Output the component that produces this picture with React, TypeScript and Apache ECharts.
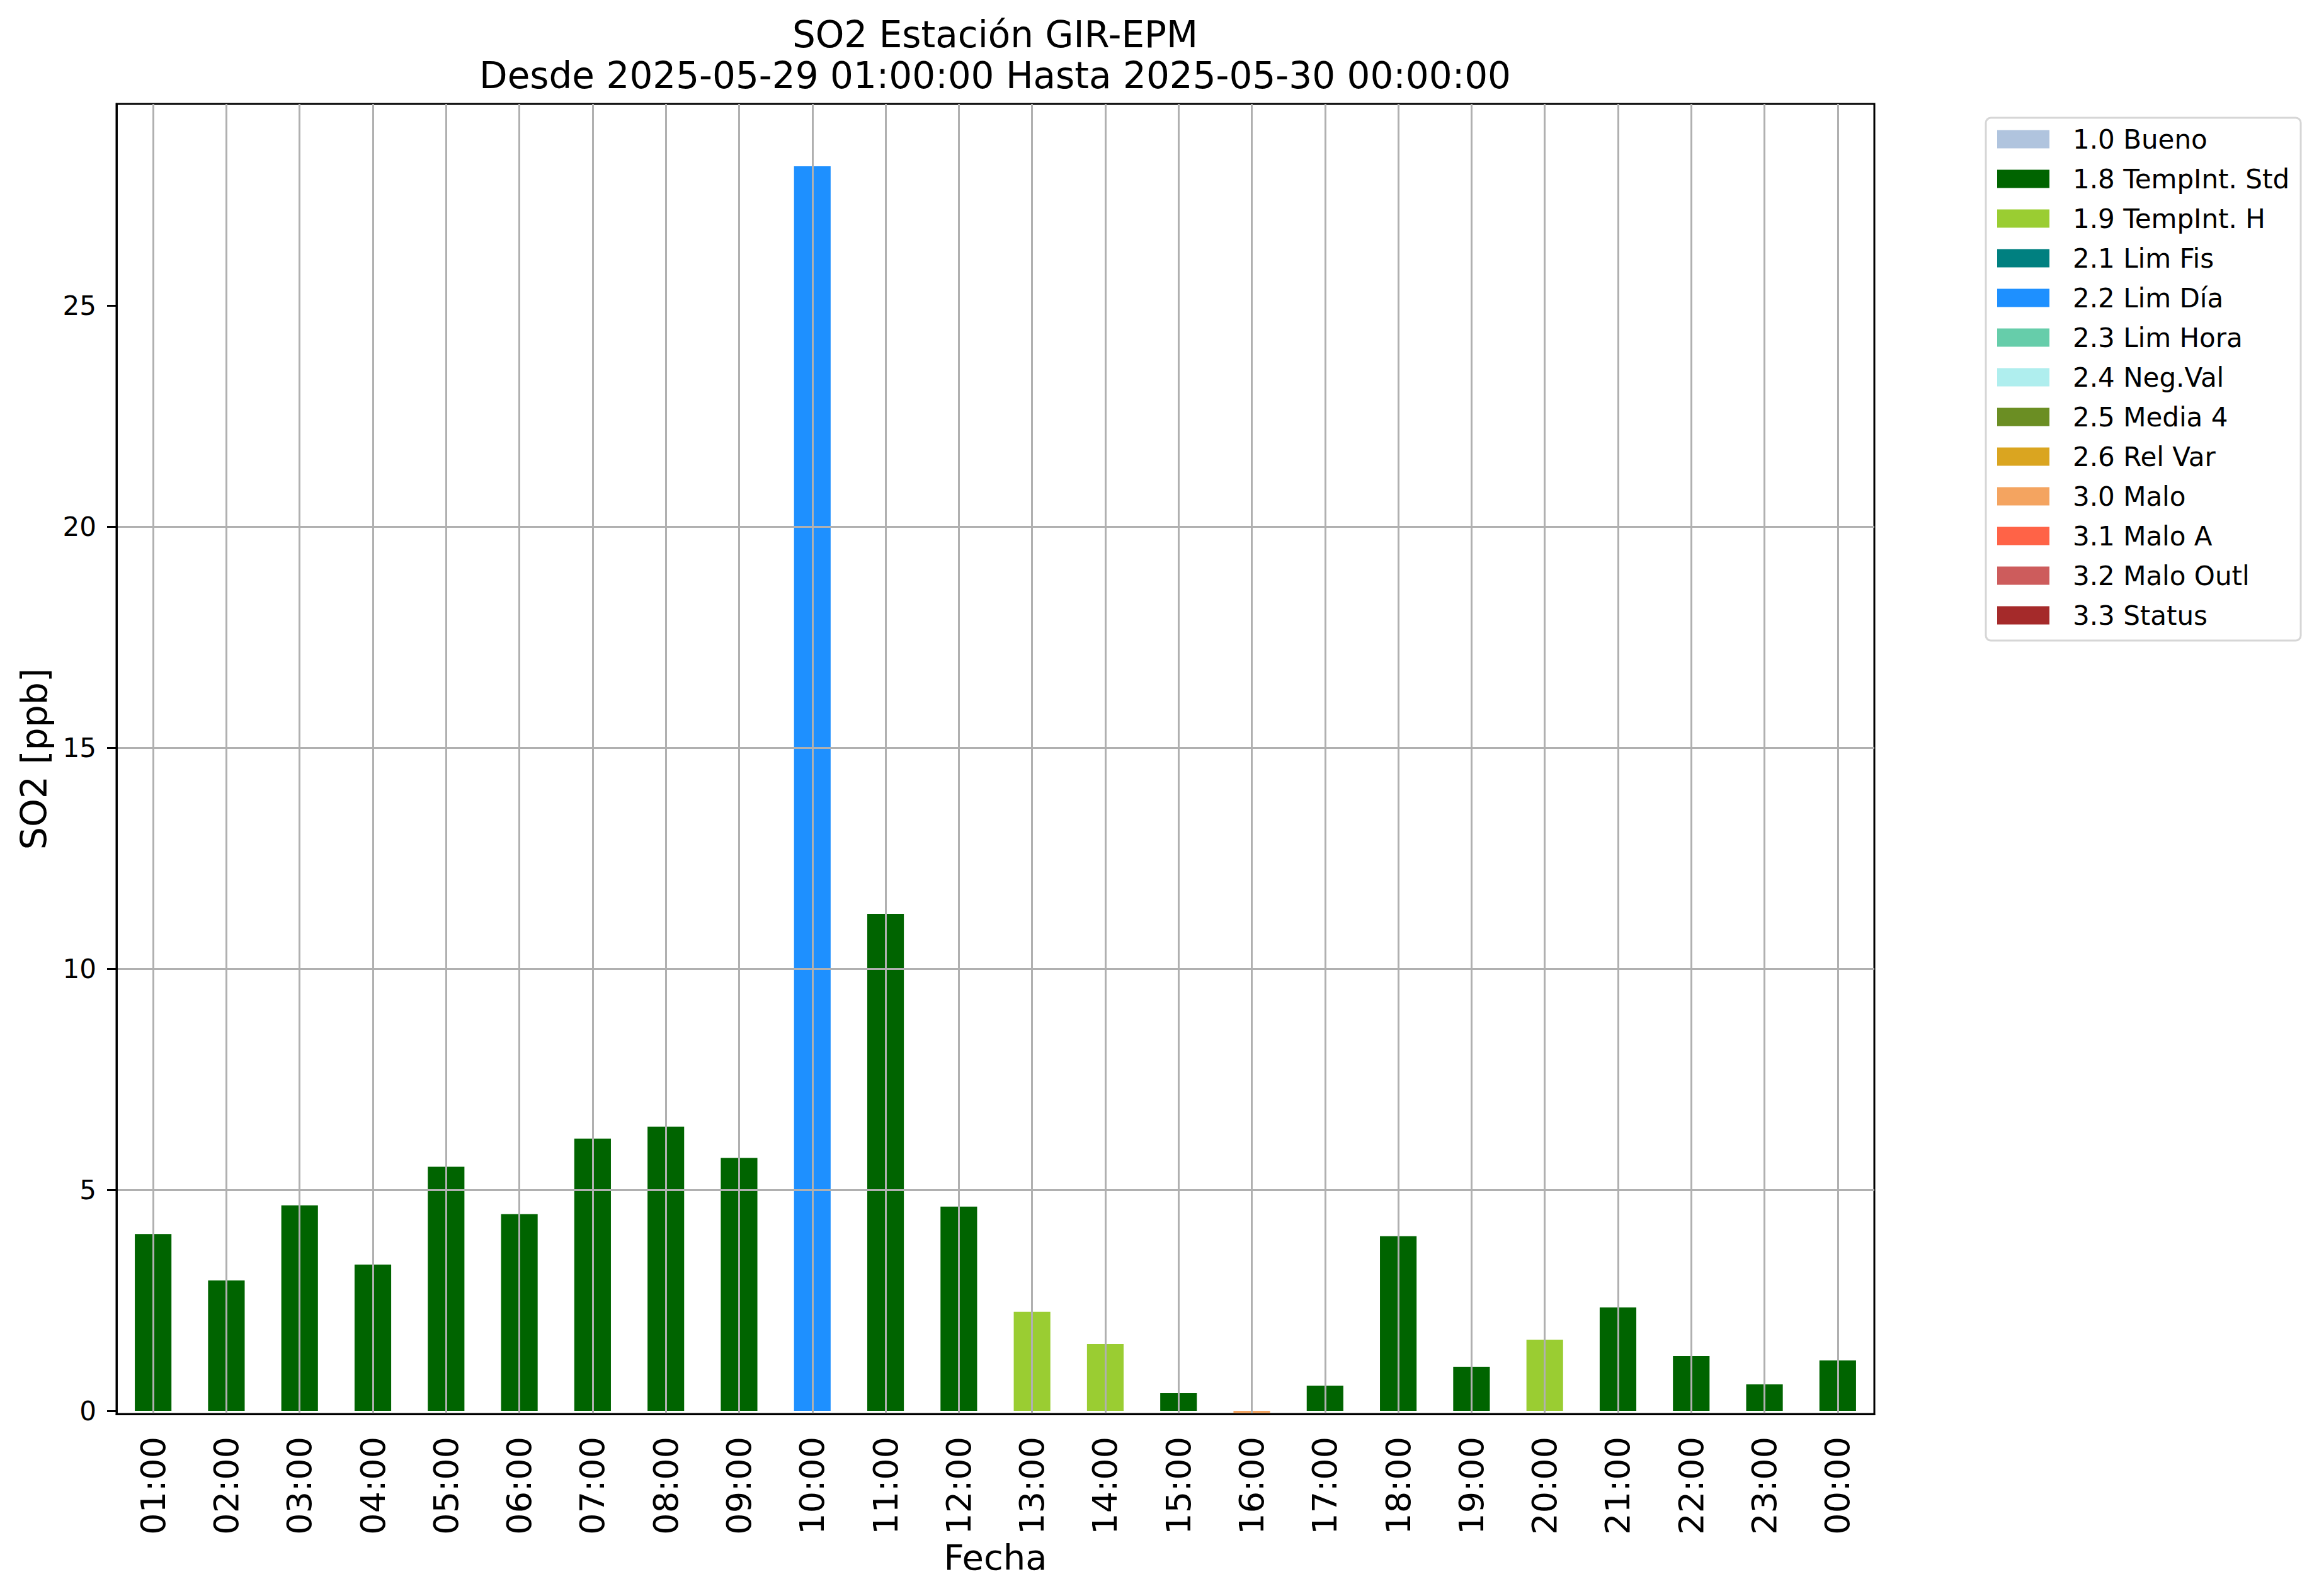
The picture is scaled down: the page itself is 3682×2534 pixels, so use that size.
import React, { useEffect, useRef } from 'react';
import * as echarts from 'echarts';

const hours = ['01:00', '02:00', '03:00', '04:00', '05:00', '06:00', '07:00', '08:00', '09:00', '10:00', '11:00', '12:00',
  '13:00', '14:00', '15:00', '16:00', '17:00', '18:00', '19:00', '20:00', '21:00', '22:00', '23:00', '00:00'];
const so2Values = [4.0, 2.95, 4.65, 3.31, 5.52, 4.45, 6.16, 6.43, 5.72, 28.15, 11.24, 4.62,
  2.24, 1.51, 0.40, -0.05, 0.57, 3.95, 1.0, 1.61, 2.34, 1.24, 0.6, 1.14];
const hourFlags = ['1.8', '1.8', '1.8', '1.8', '1.8', '1.8', '1.8', '1.8', '1.8', '2.2', '1.8', '1.8',
  '1.9', '1.9', '1.8', '3.0', '1.8', '1.8', '1.8', '1.9', '1.8', '1.8', '1.8', '1.8'];
const flagCodes = ['1.0', '1.8', '1.9', '2.1', '2.2', '2.3', '2.4', '2.5', '2.6', '3.0', '3.1', '3.2', '3.3'];
const flagNames = ['1.0 Bueno', '1.8 TempInt. Std', '1.9 TempInt. H', '2.1 Lim Fis', '2.2 Lim Día', '2.3 Lim Hora',
  '2.4 Neg.Val', '2.5 Media 4', '2.6 Rel Var', '3.0 Malo', '3.1 Malo A', '3.2 Malo Outl', '3.3 Status'];
const flagColors = ['#B0C4DE', '#006400', '#9ACD32', '#008080', '#1E90FF', '#66CDAA', '#AFEEEE', '#6B8E23',
  '#DAA520', '#F4A460', '#FF6347', '#CD5C5C', '#A52A2A'];
const yTickValues = [0, 5, 10, 15, 20, 25];
const titleText = 'SO2 Estación GIR-EPM\nDesde 2025-05-29 01:00:00 Hasta 2025-05-30 00:00:00';

const FONT = 'DejaVu Sans';

export default function App() {
  const ref = useRef<HTMLDivElement>(null);
  useEffect(() => {
    if (!ref.current) return;
    const chart = echarts.init(ref.current, null, { renderer: 'svg' });
    const series = flagCodes.map((code, i) => ({
      name: flagNames[i],
      type: 'bar',
      stack: 'total',
      barWidth: '50%',
      itemStyle: { color: flagColors[i] },
      data: so2Values.map((v, j) => (hourFlags[j] === code ? v : '-')),
    }));
    const maxV = Math.max(...so2Values);
    chart.setOption({
      animation: false,
      backgroundColor: '#ffffff',
      textStyle: { fontFamily: FONT },
      title: {
        text: titleText,
        left: 1580,
        top: 22,
        padding: 0,
        textAlign: 'center',
        textStyle: { fontFamily: FONT, fontSize: 58, fontWeight: 'normal', color: '#000', lineHeight: 65 },
      },
      legend: {
        orient: 'vertical',
        left: 3153,
        top: 187,
        data: flagNames,
        icon: 'rect',
        itemWidth: 83,
        itemHeight: 29,
        itemGap: 21,
        padding: [13, 18, 19, 18],
        borderColor: '#d6d6d6',
        borderWidth: 3,
        borderRadius: 8,
        backgroundColor: '#ffffff',
        selectedMode: false,
        textStyle: { fontFamily: FONT, fontSize: 42, color: '#000', lineHeight: 42, padding: [0, 0, 0, 32] },
      },
      grid: {
        left: 185, right: 706, top: 165, bottom: 289,
        show: true, borderColor: '#000', borderWidth: 3, backgroundColor: '#fff',
      },
      xAxis: {
        type: 'category',
        data: hours,
        z: 5,
        name: 'Fecha',
        nameLocation: 'middle',
        nameGap: 198,
        nameTextStyle: { fontFamily: FONT, fontSize: 56, color: '#000' },
        axisLine: { onZero: false, lineStyle: { color: '#000', width: 3 } },
        axisTick: { alignWithLabel: true, length: 15, interval: 0, lineStyle: { color: '#000', width: 3 } },
        axisLabel: { rotate: 90, fontSize: 54, color: '#000', margin: 36, interval: 0, fontFamily: FONT },
        splitLine: { show: true, alignWithLabel: true, interval: 0, lineStyle: { color: '#b0b0b0', width: 3 } },
      },
      yAxis: {
        type: 'value',
        z: 5,
        min: -0.07,
        max: +(maxV * 1.05).toFixed(2),
        name: 'SO2 [ppb]',
        nameLocation: 'middle',
        nameGap: 103,
        nameTextStyle: { fontFamily: FONT, fontSize: 57, color: '#000' },
        axisLine: { show: true, lineStyle: { color: '#000', width: 3 } },
        axisTick: { show: true, length: 15, customValues: yTickValues, lineStyle: { color: '#000', width: 3 } },
        axisLabel: { fontSize: 42, color: '#000', margin: 32, customValues: yTickValues, fontFamily: FONT },
        splitLine: { show: true, showMinLine: false, showMaxLine: false, lineStyle: { color: '#b0b0b0', width: 3 } },
      },
      series,
    });
    return () => chart.dispose();
  }, []);
  return <div ref={ref} style={{ position: 'fixed', left: 0, top: 0, width: 3682, height: 2534 }} />;
}
